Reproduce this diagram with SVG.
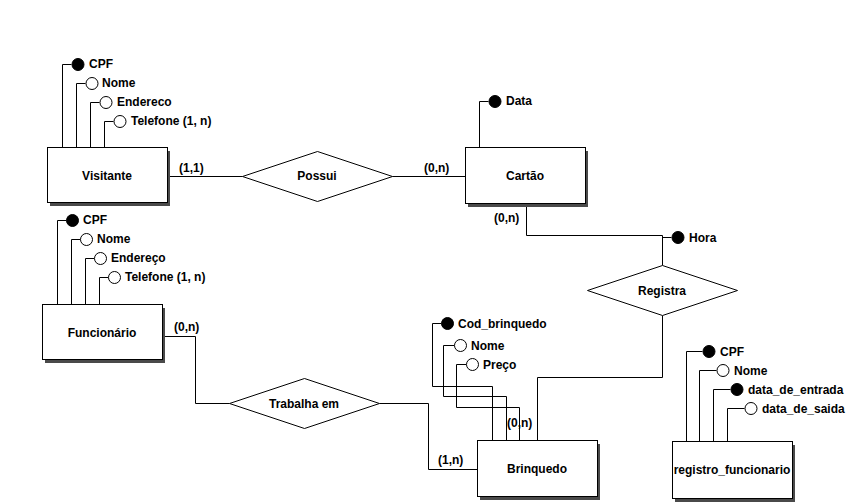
<svg xmlns="http://www.w3.org/2000/svg" width="855" height="504" viewBox="0 0 855 504">
  <defs>
    <style>
      .ent { fill: #ffffff; stroke: #000000; stroke-width: 1; }
      .shadow { fill: #4a4a4a; }
      .rel { fill: #ffffff; stroke: #000000; stroke-width: 1; }
      .ln { fill: none; stroke: #000000; stroke-width: 1; }
      .key { fill: #000000; stroke: #000000; stroke-width: 1; }
      .att { fill: #ffffff; stroke: #000000; stroke-width: 1; }
      text { font-family: "Liberation Sans", Arial, sans-serif; font-weight: bold; font-size: 12px; fill: #000000; }
      .c { text-anchor: middle; }
    </style>
  </defs>
  <rect width="855" height="504" fill="#ffffff"/>

  <!-- connectors between entities and relationships -->
  <g id="connectors">
    <!-- Visitante - Possui - Cartão -->
    <polyline class="ln" points="167.5,176.5 242.5,176.5"/>
    <polyline class="ln" points="392.5,176.5 465.5,176.5"/>
    <!-- Cartão - Registra - Brinquedo -->
    <polyline class="ln" points="526.5,204.5 526.5,235.5 662.5,235.5 662.5,265.5"/>
    <polyline class="ln" points="662.5,315.5 662.5,377.5 537.5,377.5 537.5,440.5"/>
    <!-- Funcionário - Trabalha em - Brinquedo -->
    <polyline class="ln" points="162.5,336.5 195.5,336.5 195.5,403.5 229.5,403.5"/>
    <polyline class="ln" points="379.5,403.5 428.5,403.5 428.5,469.5 477.5,469.5"/>
    <!-- cardinalities -->
    <text x="179" y="172">(1,1)</text>
    <text x="424" y="172">(0,n)</text>
    <text x="494" y="222">(0,n)</text>
    <text x="174" y="331">(0,n)</text>
    <text x="438" y="464">(1,n)</text>
    <text x="507" y="427">(0,n)</text>
  </g>

  <!-- Visitante -->
  <g id="visitante">
    <rect class="shadow" x="50" y="151" width="120" height="55"/>
    <rect class="ent" x="47.5" y="147.5" width="120" height="55"/>
    <text class="c" x="107" y="180">Visitante</text>
    <polyline class="ln" points="62.5,147.5 62.5,64.5 71.5,64.5"/>
    <circle class="key" cx="78" cy="64.5" r="6"/>
    <text x="89" y="68">CPF</text>
    <polyline class="ln" points="76.5,147.5 76.5,83.5 85.5,83.5"/>
    <circle class="att" cx="92" cy="83.5" r="6"/>
    <text x="102" y="87">Nome</text>
    <polyline class="ln" points="90.5,147.5 90.5,102.5 99.5,102.5"/>
    <circle class="att" cx="106" cy="102.5" r="6"/>
    <text x="117" y="106">Endereco</text>
    <polyline class="ln" points="104.5,147.5 104.5,121.5 113.5,121.5"/>
    <circle class="att" cx="120" cy="121.5" r="6"/>
    <text x="131" y="125">Telefone (1, n)</text>
  </g>

  <!-- Possui -->
  <g id="possui">
    <polygon class="rel" points="242.5,176.5 317.5,151.5 392.5,176.5 317.5,201.5"/>
    <text class="c" x="317" y="180">Possui</text>
  </g>

  <!-- Cartão -->
  <g id="cartao">
    <rect class="shadow" x="468" y="151" width="120" height="56"/>
    <rect class="ent" x="465.5" y="147.5" width="120" height="56"/>
    <text class="c" x="525" y="180">Cartão</text>
    <polyline class="ln" points="479.5,147.5 479.5,101.5 488.5,101.5"/>
    <circle class="key" cx="495" cy="101.5" r="6"/>
    <text x="506" y="105">Data</text>
  </g>

  <!-- Registra -->
  <g id="registra">
    <polyline class="ln" points="662.5,237.5 671.5,237.5"/>
    <circle class="key" cx="678" cy="237.5" r="6"/>
    <text x="689" y="242">Hora</text>
    <polygon class="rel" points="587.5,290.5 662.5,265.5 737.5,290.5 662.5,315.5"/>
    <text class="c" x="662" y="295">Registra</text>
  </g>

  <!-- Funcionário -->
  <g id="funcionario">
    <rect class="shadow" x="45" y="308" width="120" height="55"/>
    <rect class="ent" x="42.5" y="304.5" width="120" height="55"/>
    <text class="c" x="102" y="337">Funcionário</text>
    <polyline class="ln" points="57.5,304.5 57.5,220.5 66.5,220.5"/>
    <circle class="key" cx="72.5" cy="220.5" r="6"/>
    <text x="83" y="224">CPF</text>
    <polyline class="ln" points="71.5,304.5 71.5,239.5 80.5,239.5"/>
    <circle class="att" cx="86.5" cy="239.5" r="6"/>
    <text x="97" y="243">Nome</text>
    <polyline class="ln" points="85.5,304.5 85.5,258.5 94.5,258.5"/>
    <circle class="att" cx="100.5" cy="258.5" r="6"/>
    <text x="111" y="262">Endereço</text>
    <polyline class="ln" points="99.5,304.5 99.5,277.5 108.5,277.5"/>
    <circle class="att" cx="114.5" cy="277.5" r="6"/>
    <text x="125" y="281">Telefone (1, n)</text>
  </g>

  <!-- Trabalha em -->
  <g id="trabalha-em">
    <polygon class="rel" points="229.5,403.5 304.5,378.5 379.5,403.5 304.5,428.5"/>
    <text class="c" x="304" y="408">Trabalha em</text>
  </g>

  <!-- Brinquedo -->
  <g id="brinquedo">
    <polyline class="ln" points="441.5,323.5 432.5,323.5 432.5,386.5 492.5,386.5 492.5,440.5"/>
    <circle class="key" cx="447.5" cy="323.5" r="6"/>
    <text x="458" y="328">Cod_brinquedo</text>
    <polyline class="ln" points="454.5,345.5 443.5,345.5 443.5,396.5 506.5,396.5 506.5,440.5"/>
    <circle class="att" cx="460.5" cy="345.5" r="6"/>
    <text x="471" y="350">Nome</text>
    <polyline class="ln" points="466.5,364.5 456.5,364.5 456.5,407.5 519.5,407.5 519.5,440.5"/>
    <circle class="att" cx="472.5" cy="364.5" r="6"/>
    <text x="483" y="369">Preço</text>
    <rect class="shadow" x="480" y="444" width="120" height="56"/>
    <rect class="ent" x="477.5" y="440.5" width="120" height="56"/>
    <text class="c" x="537" y="473">Brinquedo</text>
  </g>

  <!-- registro_funcionario -->
  <g id="registro-funcionario">
    <rect class="shadow" x="675" y="445" width="120" height="57"/>
    <rect class="ent" x="672.5" y="441.5" width="120" height="57"/>
    <text class="c" x="732" y="474">registro_funcionario</text>
    <polyline class="ln" points="686.5,441.5 686.5,351.5 702.5,351.5"/>
    <circle class="key" cx="709" cy="351.5" r="6"/>
    <text x="720" y="356">CPF</text>
    <polyline class="ln" points="699.5,441.5 699.5,370.5 716.5,370.5"/>
    <circle class="att" cx="723" cy="370.5" r="6"/>
    <text x="734" y="375">Nome</text>
    <polyline class="ln" points="713.5,441.5 713.5,389.5 730.5,389.5"/>
    <circle class="key" cx="737" cy="389.5" r="6"/>
    <text x="748" y="394">data_de_entrada</text>
    <polyline class="ln" points="727.5,441.5 727.5,408.5 744.5,408.5"/>
    <circle class="att" cx="751" cy="408.5" r="6"/>
    <text x="762" y="413">data_de_saida</text>
  </g>
</svg>
